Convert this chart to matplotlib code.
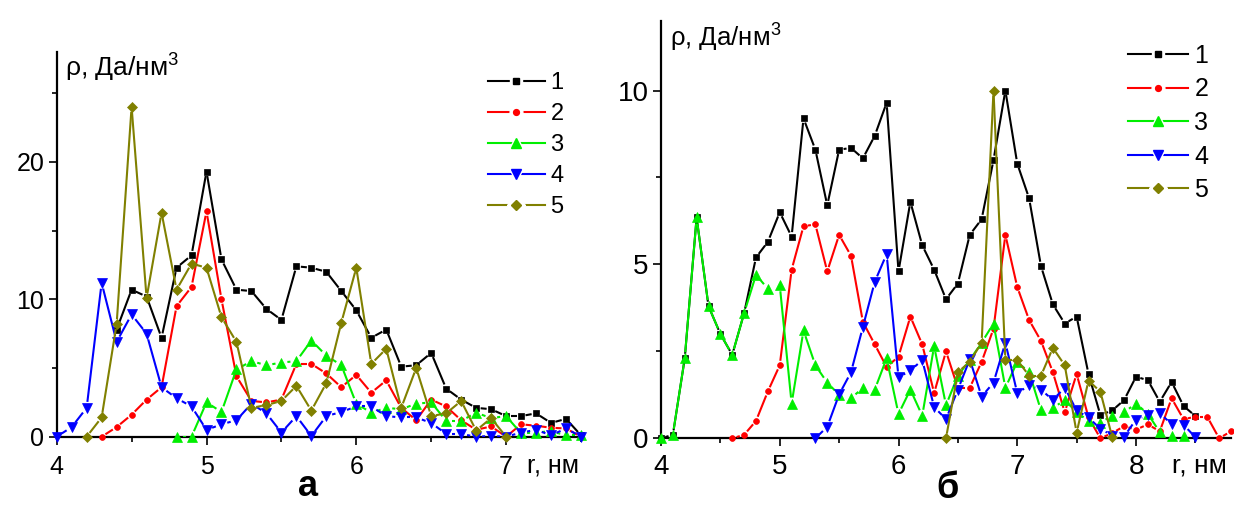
import numpy as np
import matplotlib
matplotlib.use('Agg')
import matplotlib.pyplot as plt
from matplotlib.collections import LineCollection
from matplotlib.lines import Line2D
from matplotlib.legend_handler import HandlerTuple
from matplotlib.ticker import MultipleLocator

plt.rcParams['font.family'] = ['Liberation Sans', 'DejaVu Sans']
plt.rcParams['mathtext.fontset'] = 'custom'
plt.rcParams['mathtext.rm'] = 'Liberation Sans'
plt.rcParams['mathtext.it'] = 'Liberation Sans'
plt.rcParams['mathtext.bf'] = 'Liberation Sans:bold'

W, H = 1234, 507
STEP = 0.1

# ---------------- panel a data (start r, values every 0.1 nm) ----------------
a1_r0 = 4.4
a1 = [7.8, 10.7, 10.2, 7.2, 12.3, 13.2, 19.3, 12.9, 10.7, 10.6, 9.3, 8.5, 12.4, 12.3,
      12.0, 10.6, 9.2, 7.2, 7.8, 5.1, 5.2, 6.1, 3.5, 2.7, 2.1, 2.0, 1.5, 1.5, 1.7, 1.0,
      1.3, 0.1]
a2_r0 = 4.3
a2 = [0.0, 0.7, 1.6, 2.7, 3.6, 9.5, 10.9, 16.4, 10.0, 4.4, 2.6, 2.5, 2.7, 5.3, 5.3,
      4.6, 3.6, 4.5, 3.2, 4.1, 2.1, 1.2, 2.7, 2.2, 1.2, 0.5, 0.75, 0.0, 0.9, 0.8, 0.65,
      0.6, 0.0]
a3_r0 = 4.8
a3 = [0.0, 0.0, 2.5, 1.8, 4.9, 5.5, 5.2, 5.4, 5.5, 7.0, 5.9, 5.2, 2.4, 1.75, 2.1, 2.0,
      2.4, 2.5, 1.15, 1.15, 1.75, 1.35, 1.5, 0.25, 0.3, 0.4, 0.1, 0.1]
a4_r0 = 4.0
a4 = [0.0, 0.7, 2.1, 11.2, 6.9, 8.9, 7.5, 3.6, 2.8, 2.2, 0.5, 0.9, 1.2, 2.4, 1.7, 0.3,
      1.5, 0.05, 1.5, 1.8, 2.2, 2.2, 1.5, 1.4, 1.4, 1.0, 0.2, 0.2, 0.0, 0.05, 0.0, 0.3,
      0.5, 0.1, 0.6, 0.0]
a5_r0 = 4.2
a5 = [0.0, 1.4, 8.2, 24.0, 10.1, 16.3, 10.7, 12.6, 12.3, 8.7, 6.9, 2.1, 2.3, 2.6, 3.7,
      1.9, 3.9, 8.3, 12.3, 5.3, 6.4, 2.1, 5.0, 1.5, 1.7, 2.6, 0.45, 1.35, 0.0]

# ---------------- panel b data ----------------
b1_r0 = 4.0
b1 = [0.0, 0.1, 2.3, 6.35, 3.8, 3.0, 2.4, 3.6, 5.2, 5.65, 6.5, 5.8, 9.2, 8.3, 6.7, 8.3,
      8.35, 8.05, 8.7, 9.65, 4.8, 6.8, 5.55, 4.85, 4.0, 4.45, 5.85, 6.3, 8.0, 10.0, 7.9,
      6.9, 4.95, 3.85, 3.3, 3.5, 1.85, 0.67, 0.8, 1.1, 1.77, 1.67, 1.05, 1.62, 0.93, 0.64]
b2_r0 = 4.6
b2 = [0.0, 0.1, 0.5, 1.35, 2.1, 4.85, 6.1, 6.15, 4.8, 5.85, 5.25, 3.35, 2.7, 2.05, 2.35,
      3.5, 2.7, 1.3, 2.5, 1.45, 1.45, 2.2, 3.15, 5.85, 4.35, 3.4, 2.8, 1.9, 0.75, 1.85,
      0.6, 0.0, 0.15, 0.35, 0.25, 0.4, 0.2, 1.15, 0.55, 0.62, 0.62, 0.0, 0.2]
b3_r0 = 4.0
b3 = [0.0, 0.1, 2.3, 6.35, 3.8, 3.0, 2.4, 3.6, 4.7, 4.3, 4.4, 1.0, 3.1, 2.1, 1.6, 1.25,
      1.15, 1.45, 1.4, 2.3, 0.7, 1.4, 0.65, 2.65, 0.95, 1.8, 2.25, 2.75, 3.3, 1.45, 2.2,
      1.9, 0.8, 0.87, 1.1, 0.75, 0.5, 0.45, 0.65, 0.75, 1.0, 0.7, 0.18, 0.08, 0.08]
b4_r0 = 5.3
b4 = [0.0, 0.33, 1.26, 1.9, 3.2, 4.5, 5.3, 1.75, 1.95, 2.25, 0.9, 0.55, 1.4, 2.27, 1.2,
      1.6, 2.75, 1.3, 1.52, 1.4, 1.1, 1.46, 0.8, 0.6, 0.27, 0.08, 0.05, 0.54, 0.66, 0.73,
      0.4, 0.39, 0.03]
b5_r0 = 6.4
b5 = [0.0, 1.9, 2.2, 2.75, 10.0, 2.25, 2.25, 1.8, 1.8, 2.6, 2.1, 0.16, 1.66, 1.34, 0.03]

labels = ['1', '2', '3', '4', '5']
colors = ['#000000', '#FF0000', '#00EE00', '#0000FF', '#808000']
markers = ['s', 'o', '^', 'v', 'D']
msizes = [4.2, 4.2, 7.0, 7.0, 4.6]
gaps_px = [4.5, 4.5, 6.0, 6.0, 4.8]

fig = plt.figure(figsize=(W / 100, H / 100), dpi=100)


def px_axes(l, t, r, b):
    return [l / W, 1 - b / H, (r - l) / W, (b - t) / H]


axA = fig.add_axes(px_axes(56.7, 52, 581, 436.7))
axB = fig.add_axes(px_axes(661, 21, 1231, 438.3))

axA.set_xlim(4, 7.5)
axA.set_ylim(0, 28)
axB.set_xlim(4, 8.8)
axB.set_ylim(0, 12)


def draw_series(ax, r0, vals, k):
    r = np.round(r0 + STEP * np.arange(len(vals)), 2)
    v = np.asarray(vals, float)
    P = ax.transData.transform(np.column_stack([r, v]))
    inv = ax.transData.inverted()
    g = gaps_px[k]
    segs = []
    for p, q in zip(P[:-1], P[1:]):
        d = q - p
        L = np.hypot(d[0], d[1])
        if L <= 2 * g + 0.5:
            continue
        u = d / L
        segs.append(inv.transform(np.array([p + u * g, q - u * g])))
    lc = LineCollection(segs, colors=colors[k], linewidths=1.5, zorder=2 + k,
                        capstyle='butt')
    ax.add_collection(lc)
    ax.plot(r, v, linestyle='none', marker=markers[k], ms=msizes[k],
            color=colors[k], mec=colors[k], mew=0.5, zorder=2.5 + k, clip_on=False)


series_a = [(a1_r0, a1), (a2_r0, a2), (a3_r0, a3), (a4_r0, a4), (a5_r0, a5)]
series_b = [(b1_r0, b1), (b2_r0, b2), (b3_r0, b3), (b4_r0, b4), (b5_r0, b5)]

for ax, series in ((axA, series_a), (axB, series_b)):
    for k, (r0, vals) in enumerate(series):
        draw_series(ax, r0, vals, k)

# axes styling
for ax, fs, maj, mnr, xpad in ((axA, 18, 10, 5, 7), (axB, 20, 5, 2.5, 5)):
    for s in ('top', 'right'):
        ax.spines[s].set_visible(False)
    for s in ('left', 'bottom'):
        ax.spines[s].set_linewidth(1.6)
    ax.xaxis.set_major_locator(MultipleLocator(1))
    ax.xaxis.set_minor_locator(MultipleLocator(0.5))
    ax.yaxis.set_major_locator(MultipleLocator(maj))
    ax.yaxis.set_minor_locator(MultipleLocator(mnr))
    ax.tick_params(which='major', direction='out', length=6, width=1.2,
                   labelsize=fs, pad=3)
    ax.tick_params(which='minor', direction='out', length=3.8, width=1.2)
    ax.tick_params(axis='x', which='major', pad=xpad)


# legends
def make_legend(ax, fs, x_px, top_px, spacing):
    handles = []
    for k in range(5):
        bg = Line2D([], [], color=colors[k], lw=1.5, marker=markers[k],
                    ms=msizes[k] + 5, mfc='white', mec='white')
        fg = Line2D([], [], linestyle='none', marker=markers[k], ms=msizes[k],
                    color=colors[k])
        handles.append((bg, fg))
    leg = ax.legend(handles, labels, handler_map={tuple: HandlerTuple(ndivide=1)},
                    loc='upper left', bbox_to_anchor=(x_px / W, 1 - top_px / H),
                    bbox_transform=fig.transFigure, frameon=False, fontsize=fs,
                    handlelength=2.4, handletextpad=0.25, labelspacing=spacing,
                    borderpad=0, borderaxespad=0, numpoints=1)
    return leg


make_legend(axA, 17, 488, 72, 0.38)
make_legend(axB, 18, 1128, 44, 0.38)

# texts
ylab = 'ρ, Да/нм$^{3}$'
fig.text(65 / W, 1 - 77 / H, ylab, fontsize=19, ha='left', va='baseline')
fig.text(670 / W, 1 - 47 / H, ylab, fontsize=18.5, ha='left', va='baseline')
fig.text(527 / W, 1 - 466 / H, 'r, нм', fontsize=18, ha='left', va='center')
fig.text(1172 / W, 1 - 466 / H, 'r, нм', fontsize=19, ha='left', va='center')
fig.text(308 / W, 1 - 487 / H, 'а', fontsize=26, fontweight='bold', ha='center', va='center')
fig.text(948 / W, 1 - 489 / H, 'б', fontsize=26, fontweight='bold', ha='center', va='center')

fig.savefig('out.png', dpi=100)
